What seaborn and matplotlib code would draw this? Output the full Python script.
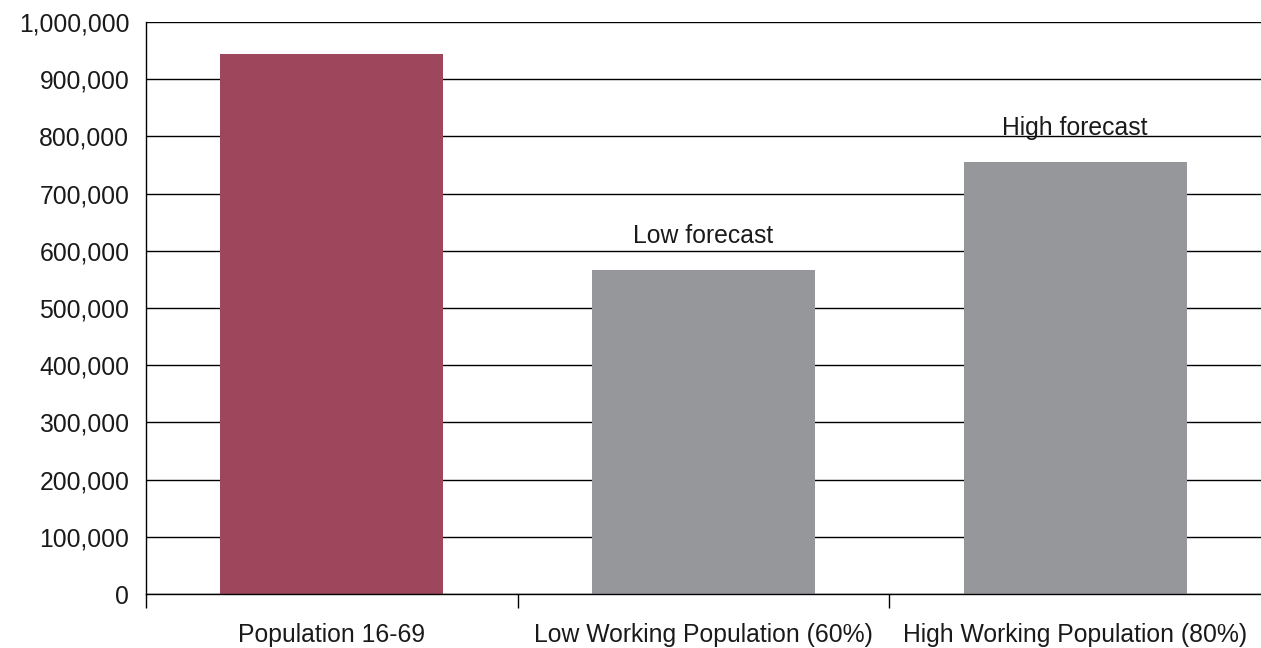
import matplotlib
matplotlib.use("Agg")
import matplotlib.pyplot as plt
import seaborn as sns
from matplotlib.ticker import FuncFormatter, FixedLocator

# chart data
categories = ["Population 16-69", "Low Working Population (60%)", "High Working Population (80%)"]
values = [944000, 566500, 755000]
bar_colors = ["#9E465B", "#96979B", "#96979B"]
annotations = ["", "Low forecast", "High forecast"]

sns.set_theme(style="white")
plt.rcParams["font.family"] = ["Liberation Sans", "DejaVu Sans"]

fig = plt.figure(figsize=(12.61, 6.48), dpi=100)
ax = fig.add_axes([0.1158, 0.0833, 0.8842, 0.8827])

sns.barplot(x=categories, y=values, hue=categories, palette=bar_colors,
            width=0.6, legend=False, ax=ax, saturation=1, linewidth=0)

ax.set_ylim(0, 1000000)
ax.set_xlim(-0.5, 2.5)
ax.set_yticks(range(0, 1000001, 100000))
ax.yaxis.set_major_formatter(FuncFormatter(lambda v, p: f"{int(v):,}"))
ax.grid(axis="y", color="black", linewidth=1.0)
ax.set_axisbelow(True)
ax.set_xlabel("")
ax.set_ylabel("")

for s in ["top", "right"]:
    ax.spines[s].set_visible(False)
for s in ["left", "bottom"]:
    ax.spines[s].set_color("black")
    ax.spines[s].set_linewidth(1.0)

txt_color = "#1a1a1a"
ax.tick_params(axis="x", which="major", length=0, pad=21, labelsize=17.8, labelcolor=txt_color)
ax.tick_params(axis="y", which="major", length=0, pad=12, labelsize=17.8, labelcolor=txt_color)
ax.xaxis.set_minor_locator(FixedLocator([-0.5, 0.5, 1.5]))
ax.tick_params(axis="x", which="minor", bottom=True, length=10, width=1.0, color="black")

for i, (v, t) in enumerate(zip(values, annotations)):
    if t:
        ax.text(i, v + 48000, t, ha="center", va="baseline", fontsize=17.8,
                color=txt_color)

fig.savefig("out.png", dpi=100)
